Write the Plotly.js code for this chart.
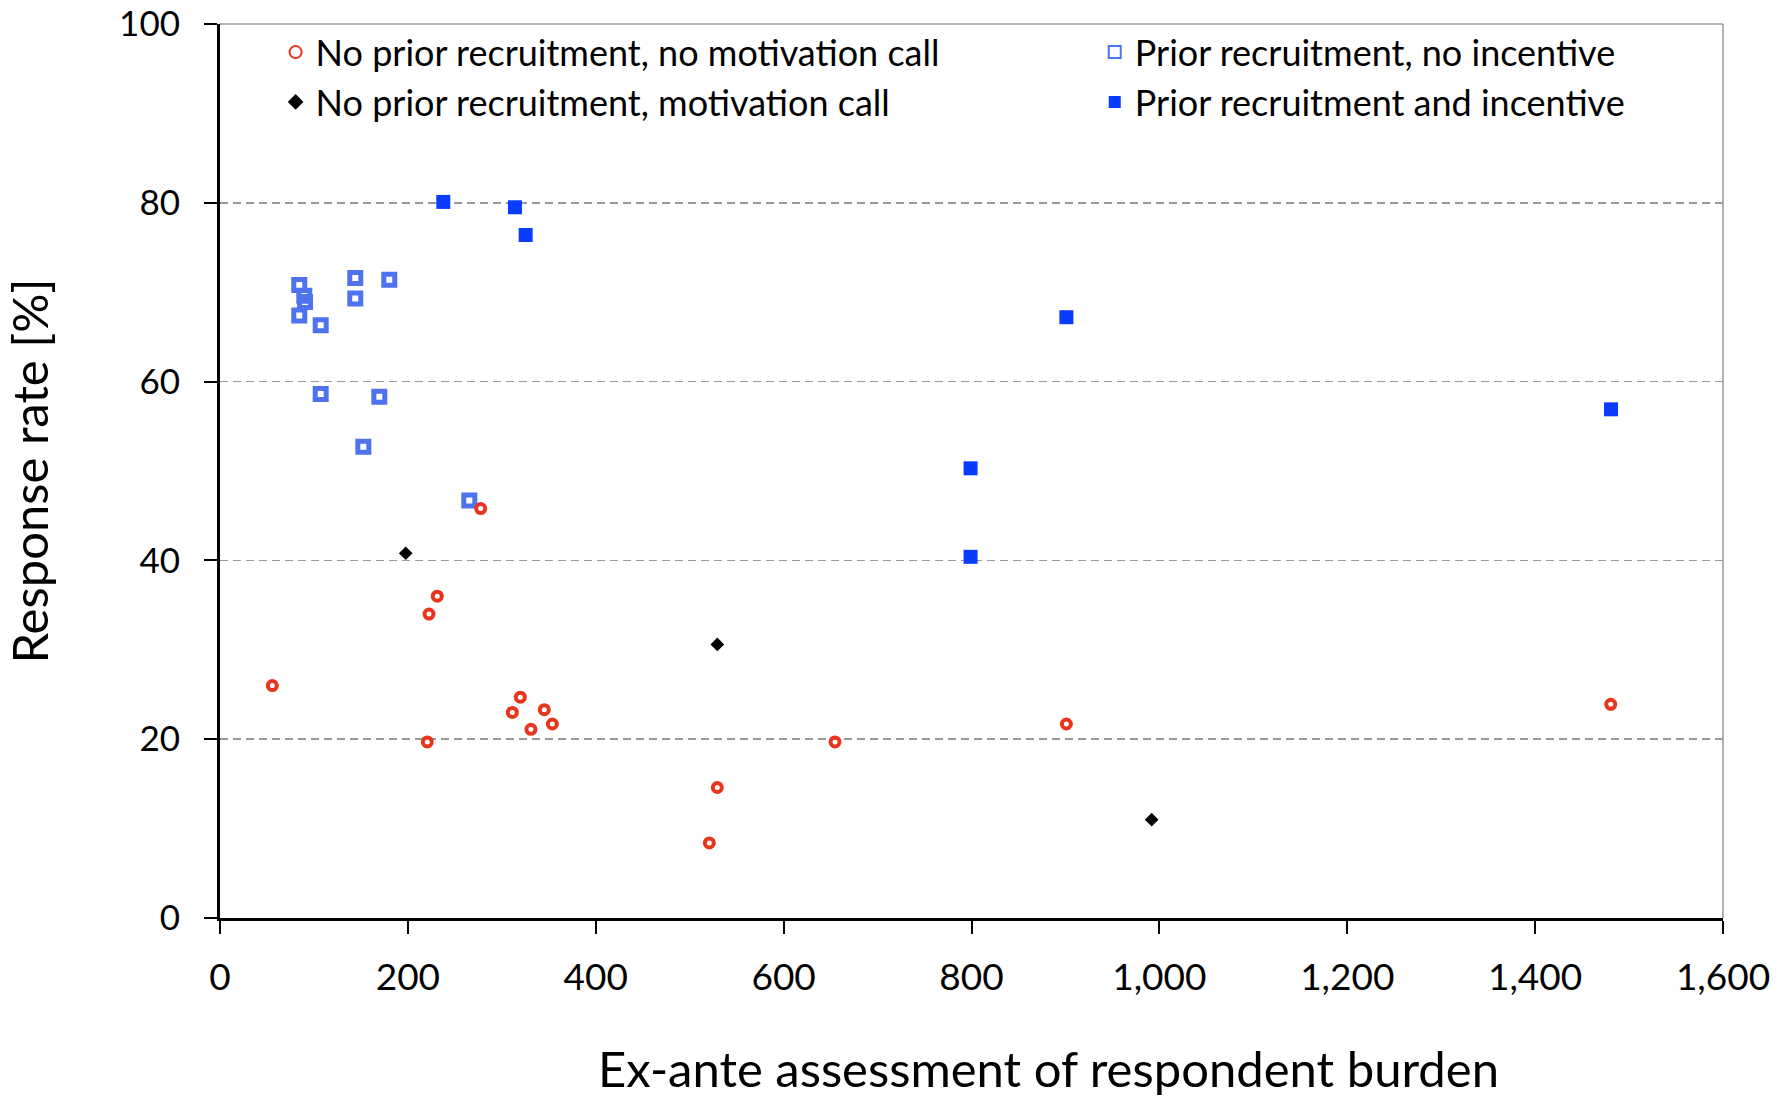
<!DOCTYPE html>
<html>
<head>
<meta charset="utf-8">
<script src="https://cdn.plot.ly/plotly-3.0.1.min.js"></script>
<style>html,body{margin:0;padding:0;background:#fff;}#chart{width:1779px;height:1099px;}</style>
</head>
<body>
<div id="chart"></div>
<script>
// Series: No prior recruitment, no motivation call
const redX = [55.7, 220.7, 222.5, 231.3, 277.5, 311.2, 319.7, 331, 345.2, 353.8, 520.9, 529.4, 654.7, 901, 1480.5];
const redY = [26.0, 19.7, 34.0, 36.0, 45.8, 23.0, 24.7, 21.1, 23.3, 21.7, 8.4, 14.6, 19.7, 21.7, 23.9];
// Series: No prior recruitment, motivation call
const blackX = [197.7, 529.4, 991.8];
const blackY = [40.8, 30.6, 11.0];
// Series: Prior recruitment, no incentive
const openX = [84.4, 89.7, 90.5, 84.4, 107.2, 144, 144, 180.2, 107.2, 169.6, 152.6, 265.4];
const openY = [70.8, 69.6, 68.9, 67.4, 66.3, 71.6, 69.3, 71.4, 58.6, 58.3, 52.7, 46.7];
// Series: Prior recruitment and incentive
const fillX = [237.7, 314, 325.4, 799, 799, 901, 1480.8];
const fillY = [80.1, 79.5, 76.4, 50.3, 40.4, 67.2, 56.9];

const names = [
  "No prior recruitment, no motivation call",
  "No prior recruitment, motivation call",
  "Prior recruitment, no incentive",
  "Prior recruitment and incentive"
];
const xTitle = "Ex-ante assessment of respondent burden";
const yTitle = "Response rate [%]";
const xTicks = [0, 200, 400, 600, 800, 1000, 1200, 1400, 1600];
const yTicks = [0, 20, 40, 60, 80, 100];

const FONT = "Lato, 'Open Sans', sans-serif";

const traces = [
  {x: openX, y: openY, name: names[2], type: "scatter", mode: "markers", legend: "legend2", legendgroup: "c",
   marker: {symbol: "square-open", size: 11, color: "#4f72ef", line: {width: 5, color: "#4f72ef"}}},
  {x: fillX, y: fillY, name: names[3], type: "scatter", mode: "markers", legend: "legend2", legendgroup: "d",
   marker: {symbol: "square", size: 14, color: "#0a3cff"}},
  {x: redX, y: redY, name: names[0], type: "scatter", mode: "markers", legend: "legend", legendgroup: "a",
   marker: {symbol: "circle-open", size: 9, color: "#e8361e", line: {width: 4, color: "#e8361e"}}},
  {x: blackX, y: blackY, name: names[1], type: "scatter", mode: "markers", legend: "legend", legendgroup: "b",
   marker: {symbol: "diamond", size: 10.5, color: "#000000"}}
];

const legendCommon = {
  orientation: "v", yanchor: "top", xanchor: "left", bgcolor: "rgba(0,0,0,0)", borderwidth: 0,
  font: {family: FONT, size: 36, color: "#000"}, itemsizing: "constant", tracegroupgap: 7,
  traceorder: "normal"
};

const layout = {
  width: 1779, height: 1099,
  paper_bgcolor: "#fff", plot_bgcolor: "#fff",
  margin: {l: 220, r: 56, t: 24, b: 181},
  font: {family: FONT, color: "#000"},
  showlegend: true,
  legend: Object.assign({}, legendCommon, {x: 0.037, y: 1.002}),
  legend2: Object.assign({}, legendCommon, {x: 0.582, y: 1.002}),
  xaxis: {
    range: [0, 1600], tickvals: xTicks, tickformat: ",d",
    ticks: "outside", ticklen: 13, tickwidth: 2, tickcolor: "#000",
    showline: true, linecolor: "#000", linewidth: 3, zeroline: false, showgrid: false,
    tickfont: {family: FONT, size: 37, color: "#000"}, ticklabelstandoff: 12,
    ticklabeloverflow: "allow"
  },
  yaxis: {
    range: [0, 100], tickvals: yTicks,
    ticks: "outside", ticklen: 13, tickwidth: 2, tickcolor: "#000",
    showline: true, linecolor: "#000", linewidth: 3, zeroline: false,
    showgrid: true, gridcolor: "#999", gridwidth: 1.5, griddash: "8px,5px",
    tickfont: {family: FONT, size: 35, color: "#000"}, ticklabelstandoff: 17,
    ticklabeloverflow: "allow",
    title: {text: yTitle, font: {family: FONT, size: 49, color: "#000"}, standoff: 75}
  },
  annotations: [
    {text: xTitle, xref: "paper", yref: "paper", x: 0.551, y: -0.1678, xanchor: "center", yanchor: "middle",
     showarrow: false, font: {family: FONT, size: 49, color: "#000"}}
  ],
  shapes: [
    {type: "line", xref: "paper", yref: "paper", x0: 0, x1: 1, y0: 1, y1: 1, line: {color: "#999", width: 1.5}},
    {type: "line", xref: "paper", yref: "paper", x0: 1, x1: 1, y0: 0, y1: 1, line: {color: "#999", width: 1.5}}
  ]
};

Plotly.newPlot("chart", traces, layout, {displayModeBar: false, staticPlot: true});
</script>
</body>
</html>
